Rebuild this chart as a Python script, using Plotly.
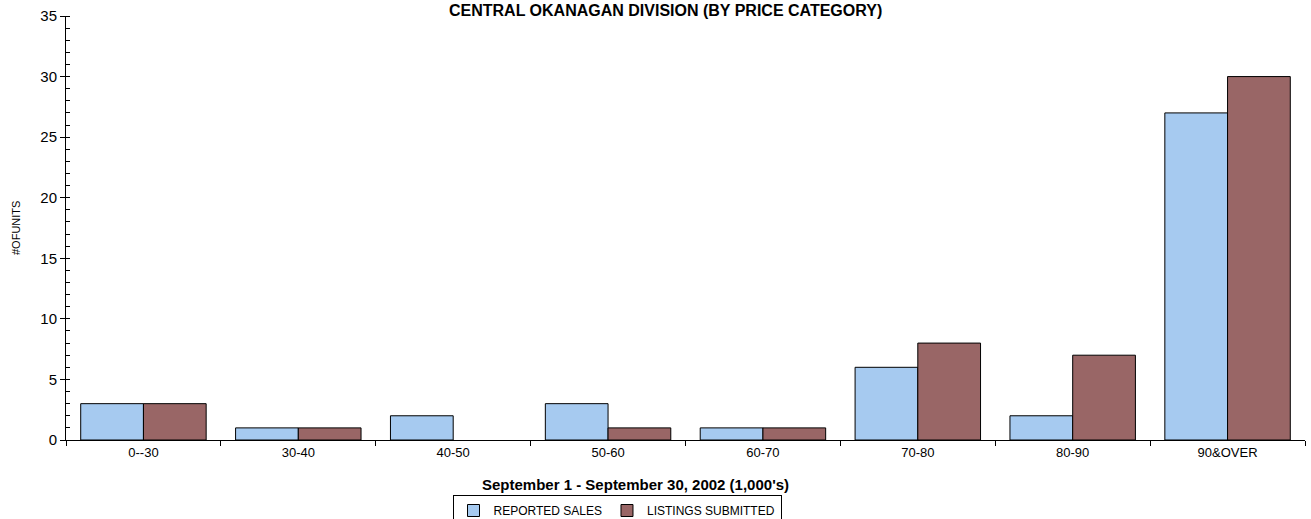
import plotly.graph_objects as go

categories = ["0--30", "30-40", "40-50", "50-60", "60-70", "70-80", "80-90", "90&OVER"]
reported_sales = [3, 1, 2, 3, 1, 6, 2, 27]
listings_submitted = [3, 1, 0, 1, 1, 8, 7, 30]

FONT = "Liberation Sans, Arial, sans-serif"


def outline_widths(values):
    # no visible outline for zero-height bars
    return [1 if v > 0 else 0 for v in values]


fig = go.Figure()
fig.add_trace(go.Bar(name="REPORTED SALES", x=categories, y=reported_sales,
                     marker=dict(color="#A6CAF0",
                                 line=dict(color="black", width=outline_widths(reported_sales)))))
fig.add_trace(go.Bar(name="LISTINGS SUBMITTED", x=categories, y=listings_submitted,
                     marker=dict(color="#996666",
                                 line=dict(color="black", width=outline_widths(listings_submitted)))))

fig.update_layout(
    width=1311, height=519,
    margin=dict(l=66, r=6, t=16, b=79, autoexpand=False),
    paper_bgcolor="white", plot_bgcolor="white",
    barmode="group", bargap=0.19, bargroupgap=0,
    font=dict(family=FONT, color="black"),
    showlegend=True,
    legend=dict(orientation="h", x=(617 - 66) / 1239, xanchor="center", y=-55 / 424, yanchor="top",
                bordercolor="black", borderwidth=1, font=dict(size=12, family=FONT),
                itemwidth=30, tracegroupgap=0),
)
fig.update_xaxes(
    type="category", showgrid=False, showline=True, linecolor="black", linewidth=1,
    ticks="outside", ticklen=5, tickcolor="black", tickson="boundaries",
    tickfont=dict(size=13, family=FONT), zeroline=False,
)
fig.update_yaxes(
    range=[0, 35], dtick=5, showgrid=False, showline=True, linecolor="black", linewidth=1,
    ticks="outside", ticklen=5, tickcolor="black", tickfont=dict(size=15, family=FONT),
    zeroline=False,
    minor=dict(dtick=1, ticks="inside", ticklen=4, tickcolor="black"),
)

fig.add_annotation(text="<b>CENTRAL OKANAGAN DIVISION (BY PRICE CATEGORY)</b>",
                   xref="paper", yref="paper", x=(665 - 66) / 1239, y=1, yshift=16,
                   xanchor="center", yanchor="top", showarrow=False,
                   font=dict(size=16, family=FONT))
fig.add_annotation(text="<b>September 1 - September 30, 2002 (1,000's)</b>",
                   xref="paper", yref="paper", x=(635 - 66) / 1239, y=0, yshift=-44,
                   xanchor="center", yanchor="middle", showarrow=False,
                   font=dict(size=15, family=FONT))
fig.add_annotation(text="#OFUNITS", textangle=-90,
                   xref="paper", yref="paper", x=0, xshift=-50, y=0.5,
                   xanchor="center", yanchor="middle", showarrow=False,
                   font=dict(size=11, family=FONT))

fig.write_html("out.html", config={"displayModeBar": False},
               post_script="document.body.style.margin='0';document.body.style.overflow='hidden';")
